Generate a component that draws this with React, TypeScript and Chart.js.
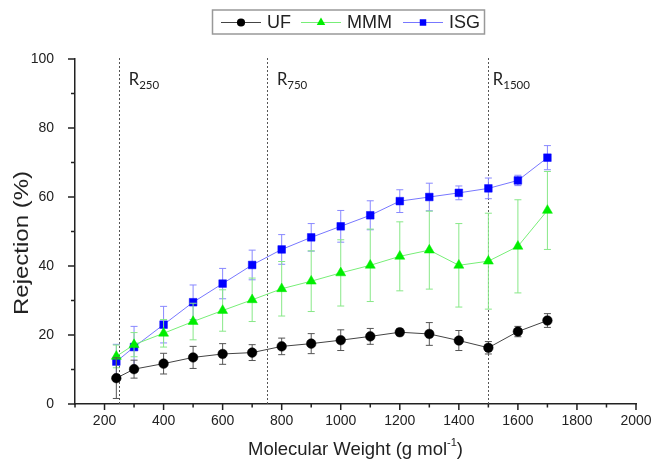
import React, { useEffect, useRef } from 'react';
import { Chart, registerables } from 'chart.js';

Chart.register(...registerables);

// ---- data ----
const molecularWeight = [240, 300, 400, 500, 600, 700, 800, 900, 1000, 1100, 1200, 1300, 1400, 1500, 1600, 1700];
const ufRejection = [7.5, 10.1, 11.7, 13.5, 14.5, 14.9, 16.7, 17.5, 18.5, 19.6, 20.8, 20.3, 18.4, 16.3, 21.0, 24.2];
const ufError = [5.9, 2.6, 3.0, 3.2, 3.0, 2.3, 2.4, 2.9, 3.0, 2.3, 1.0, 3.3, 2.9, 1.8, 1.5, 2.0];
const mmmRejection = [13.8, 17.2, 20.5, 23.9, 27.1, 30.2, 33.4, 35.6, 38.0, 40.2, 42.8, 44.6, 40.2, 41.4, 45.7, 56.1];
const mmmError = [3.3, 3.5, 4.0, 5.3, 6.0, 6.3, 7.9, 8.8, 9.6, 10.5, 10.0, 11.3, 12.1, 13.9, 13.5, 11.3];
const isgRejection = [12.3, 16.5, 23.0, 29.5, 34.9, 40.3, 44.8, 48.3, 51.5, 54.7, 58.8, 60.0, 61.2, 62.5, 64.8, 71.4];
const isgError = [5.0, 6.0, 5.3, 5.0, 4.4, 4.3, 4.3, 4.0, 4.6, 4.2, 3.3, 4.0, 2.0, 3.0, 1.5, 3.5];

const seriesNames = ['UF', 'MMM', 'ISG'];
const xTickValues = [200, 400, 600, 800, 1000, 1200, 1400, 1600, 1800, 2000];
const xMinorTicks = [100, 300, 500, 700, 900, 1100, 1300, 1500, 1700, 1900];
const yTickValues = [0, 20, 40, 60, 80, 100];
const yMinorTicks = [10, 30, 50, 70, 90];
const cutoffValues = [250, 750, 1500];
const cutoffLabels = ['250', '750', '1500'];

const xTitle = 'Molecular Weight (g mol';
const xTitleSup = '-1';
const yTitle = 'Rejection (%)';

// ---- styles ----
const markerColors = ['#000000', '#00ee00', '#0000ff'];
const lineColors = ['#444444', '#77ee77', '#7777ff'];
const errColors = ['#555555', '#88e888', '#8888ff'];
const pointStyles = ['circle', 'triangle', 'rect'];
const pointRadii = [4.8, 5.8, 5.4];
const labelOffsets = [9.5, 10, 4.5];
const AXIS = '#222222';
const FONT = '"Liberation Sans", Arial, sans-serif';

function drawMarker(ctx: CanvasRenderingContext2D, style: string, x: number, y: number, r: number, color: string) {
  ctx.save();
  ctx.fillStyle = color;
  ctx.beginPath();
  if (style === 'circle') {
    ctx.arc(x, y, r, 0, Math.PI * 2);
  } else if (style === 'triangle') {
    const h = r * 1.5;
    const w = r * Math.sqrt(3);
    ctx.moveTo(x, y - r);
    ctx.lineTo(x + w / 2, y - r + h);
    ctx.lineTo(x - w / 2, y - r + h);
    ctx.closePath();
  } else {
    const s = r * Math.SQRT1_2;
    ctx.rect(x - s, y - s, 2 * s, 2 * s);
  }
  ctx.fill();
  ctx.restore();
}

export default function App() {
  const ref = useRef<HTMLCanvasElement>(null);

  useEffect(() => {
    const canvas = ref.current;
    if (!canvas) return;
    const values = [ufRejection, mmmRejection, isgRejection];
    const errors = [ufError, mmmError, isgError];

    const plugin = {
      id: 'customDecor',
      beforeDatasetsDraw(chart: any) {
        const ctx: CanvasRenderingContext2D = chart.ctx;
        const xs = chart.scales.x;
        const area = chart.chartArea;
        ctx.save();
        ctx.strokeStyle = '#555555';
        ctx.lineWidth = 1;
        ctx.setLineDash([2, 2]);
        cutoffValues.forEach((v) => {
          const px = Math.round(xs.getPixelForValue(v)) + 0.5;
          ctx.beginPath();
          ctx.moveTo(px, area.top - 1);
          ctx.lineTo(px, area.bottom);
          ctx.stroke();
        });
        ctx.setLineDash([]);
        ctx.fillStyle = '#222222';
        cutoffValues.forEach((v, i) => {
          const px = xs.getPixelForValue(v) + labelOffsets[i];
          ctx.font = '16.5px Lato, "Open Sans", sans-serif';
          ctx.textBaseline = 'alphabetic';
          ctx.textAlign = 'left';
          ctx.fillText('R', px, 85);
          const w = ctx.measureText('R').width;
          ctx.font = '11.5px Lato, "Open Sans", sans-serif';
          ctx.fillText(cutoffLabels[i], px + w, 89);
        });
        ctx.restore();
      },
      beforeDatasetDraw(chart: any, args: any) {
        const i = args.index;
        const ctx: CanvasRenderingContext2D = chart.ctx;
        const xs = chart.scales.x;
        const ys = chart.scales.y;
        ctx.save();
        ctx.strokeStyle = errColors[i];
        ctx.lineWidth = 1;
        molecularWeight.forEach((m, k) => {
          const x = xs.getPixelForValue(m);
          const yt = ys.getPixelForValue(values[i][k] + errors[i][k]);
          const yb = ys.getPixelForValue(values[i][k] - errors[i][k]);
          ctx.beginPath();
          ctx.moveTo(x, yt);
          ctx.lineTo(x, yb);
          ctx.moveTo(x - 3.5, yt);
          ctx.lineTo(x + 3.5, yt);
          ctx.moveTo(x - 3.5, yb);
          ctx.lineTo(x + 3.5, yb);
          ctx.stroke();
        });
        ctx.restore();
      },
      afterDraw(chart: any) {
        const ctx: CanvasRenderingContext2D = chart.ctx;
        const xs = chart.scales.x;
        const ys = chart.scales.y;
        const area = chart.chartArea;
        ctx.save();
        // tick marks
        ctx.strokeStyle = AXIS;
        ctx.lineWidth = 1.5;
        ctx.beginPath();
        xTickValues.forEach((v) => {
          const px = xs.getPixelForValue(v);
          ctx.moveTo(px, area.bottom);
          ctx.lineTo(px, area.bottom + 6);
        });
        xMinorTicks.forEach((v) => {
          const px = xs.getPixelForValue(v);
          ctx.moveTo(px, area.bottom);
          ctx.lineTo(px, area.bottom + 3.5);
        });
        yTickValues.forEach((v) => {
          const py = ys.getPixelForValue(v);
          ctx.moveTo(area.left, py);
          ctx.lineTo(area.left - 7, py);
        });
        yMinorTicks.forEach((v) => {
          const py = ys.getPixelForValue(v);
          ctx.moveTo(area.left, py);
          ctx.lineTo(area.left - 4, py);
        });
        ctx.stroke();

        // x title
        ctx.fillStyle = '#222222';
        ctx.textBaseline = 'alphabetic';
        ctx.textAlign = 'left';
        ctx.font = `18.5px ${FONT}`;
        const w1 = ctx.measureText(xTitle).width;
        const w3 = ctx.measureText(')').width;
        ctx.font = `11px ${FONT}`;
        const w2 = ctx.measureText(xTitleSup).width;
        const total = w1 + w2 + w3;
        const sx = 355.5 - total / 2;
        ctx.font = `18.5px ${FONT}`;
        ctx.fillText(xTitle, sx, 455);
        ctx.font = `11px ${FONT}`;
        ctx.fillText(xTitleSup, sx + w1, 446);
        ctx.font = `18.5px ${FONT}`;
        ctx.fillText(')', sx + w1 + w2, 455);

        // y title
        ctx.save();
        ctx.translate(22, 243);
        ctx.rotate(-Math.PI / 2);
        ctx.scale(1.2, 1);
        ctx.font = `20px ${FONT}`;
        ctx.textAlign = 'center';
        ctx.textBaseline = 'middle';
        ctx.fillText(yTitle, 0, 0);
        ctx.restore();

        // legend
        ctx.strokeStyle = '#999999';
        ctx.lineWidth = 1.5;
        ctx.strokeRect(212.5, 10, 272, 24);
        const lineStarts = [221, 301, 403];
        ctx.font = `18px ${FONT}`;
        ctx.textBaseline = 'middle';
        ctx.textAlign = 'left';
        seriesNames.forEach((name, i) => {
          const lx = lineStarts[i];
          ctx.strokeStyle = lineColors[i];
          ctx.lineWidth = 1;
          ctx.beginPath();
          ctx.moveTo(lx, 22.5);
          ctx.lineTo(lx + 40, 22.5);
          ctx.stroke();
          drawMarker(ctx, pointStyles[i], lx + 20, 22.5, pointRadii[i] * 0.85, markerColors[i]);
          ctx.fillStyle = '#222222';
          ctx.fillText(name, lx + 46, 23);
        });
        ctx.restore();
      },
    };

    const makeData = (ys: number[]) => molecularWeight.map((x, k) => ({ x, y: ys[k] }));

    const chart = new Chart(canvas, {
      type: 'scatter',
      data: {
        datasets: seriesNames.map((name, i) => ({
          label: name,
          data: makeData(values[i]),
          showLine: true,
          borderColor: lineColors[i],
          borderWidth: 1,
          pointStyle: pointStyles[i] as any,
          pointRadius: pointRadii[i],
          pointBackgroundColor: markerColors[i],
          pointBorderColor: markerColors[i],
          pointBorderWidth: 0.5,
        })),
      },
      options: {
        responsive: false,
        animation: false,
        devicePixelRatio: 1,
        layout: { padding: { left: 0, right: 18, top: 59, bottom: 0 } },
        plugins: { legend: { display: false }, tooltip: { enabled: false } },
        scales: {
          x: {
            type: 'linear',
            min: 100,
            max: 2000,
            afterBuildTicks: (s: any) => {
              s.ticks = xTickValues.map((v) => ({ value: v }));
            },
            afterFit: (s: any) => {
              s.height = 60;
            },
            grid: { display: false },
            border: { display: true, color: AXIS, width: 1.5 },
            ticks: {
              color: '#222222',
              font: { family: FONT, size: 14 },
              padding: 1,
              maxRotation: 0,
              autoSkip: false,
              callback: (v: any) => String(v),
            },
          },
          y: {
            type: 'linear',
            min: 0,
            max: 100,
            afterBuildTicks: (s: any) => {
              s.ticks = yTickValues.map((v) => ({ value: v }));
            },
            afterFit: (s: any) => {
              s.width = 75;
            },
            grid: { display: false },
            border: { display: true, color: AXIS, width: 1.5 },
            ticks: {
              color: '#222222',
              font: { family: FONT, size: 14 },
              padding: 13,
              autoSkip: false,
              callback: (v: any) => String(v),
            },
          },
        },
      },
      plugins: [plugin],
    });
    return () => chart.destroy();
  }, []);

  return (
    <div style={{ position: 'fixed', left: 0, top: 0, width: 654, height: 464, background: '#ffffff' }}>
      <canvas ref={ref} width={654} height={464} style={{ display: 'block', width: 654, height: 464 }} />
    </div>
  );
}
